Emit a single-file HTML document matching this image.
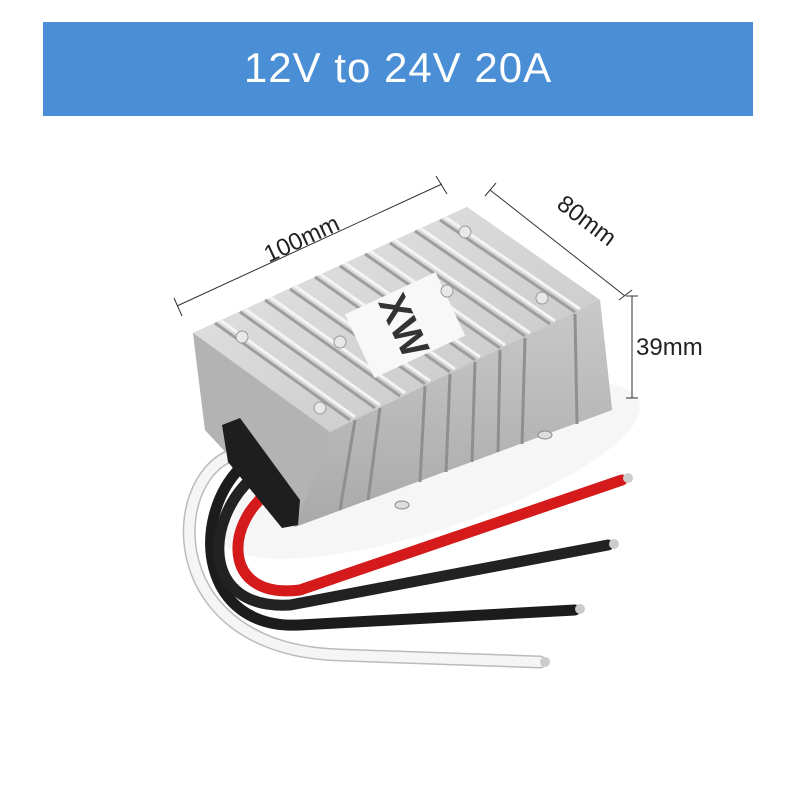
<!DOCTYPE html>
<html><head><meta charset="utf-8"><style>
html,body{margin:0;padding:0;background:#fff;}
body{width:800px;height:800px;position:relative;overflow:hidden;font-family:"Liberation Sans",sans-serif;}
.banner{position:absolute;left:43px;top:22px;width:710px;height:94px;background:#4a8fd6;color:#fff;font-size:42px;text-align:center;line-height:92px;letter-spacing:1px;}
svg{position:absolute;left:0;top:0;}
</style></head><body>
<div class="banner">12V to 24V 20A</div>
<svg width="800" height="800" viewBox="0 0 800 800">
<defs>
<linearGradient id="top" x1="0" y1="0" x2="1" y2="1"><stop offset="0" stop-color="#e6e6e6"/><stop offset="1" stop-color="#c4c4c4"/></linearGradient>
<linearGradient id="front" x1="0" y1="0" x2="0" y2="1"><stop offset="0" stop-color="#c9c9c9"/><stop offset="1" stop-color="#a9a9a9"/></linearGradient>
</defs>
<ellipse cx="430" cy="470" rx="220" ry="60" fill="#f6f6f6" transform="rotate(-18 430 470)"/>
<g stroke="#333" stroke-width="1" fill="none">
<line x1="177" y1="306" x2="442" y2="184"/><line x1="174" y1="298" x2="182" y2="316"/><line x1="436" y1="176" x2="447" y2="194"/>
<line x1="490" y1="190" x2="625" y2="296"/><line x1="485" y1="196" x2="496" y2="183"/><line x1="619" y1="300" x2="632" y2="290"/>
<line x1="632" y1="296" x2="632" y2="398"/><line x1="626" y1="296" x2="638" y2="296"/><line x1="626" y1="398" x2="638" y2="398"/>
</g>
<text x="305" y="246" font-size="24" fill="#222" transform="rotate(-25 305 246)" text-anchor="middle">100mm</text>
<text x="582" y="227" font-size="24" fill="#222" transform="rotate(37 582 227)" text-anchor="middle">80mm</text>
<text x="636" y="355" font-size="24" fill="#222">39mm</text>
<polygon points="193,333 205,430 295,527 612,410 600,300 467,207" fill="#bdbdbd"/>
<polygon points="193,333 467,207 600,300 330,432" fill="url(#top)"/>
<polygon points="330,432 600,300 612,410 295,527" fill="url(#front)"/>
<polygon points="193,333 330,432 295,527 205,430" fill="#b3b3b3"/>
<g stroke="#9e9e9e" stroke-width="3">
<line x1="215" y1="323" x2="350" y2="420"/><line x1="240" y1="312" x2="375" y2="408"/>
<line x1="265" y1="300" x2="400" y2="396"/><line x1="290" y1="289" x2="425" y2="384"/>
<line x1="315" y1="277" x2="450" y2="372"/><line x1="340" y1="266" x2="475" y2="360"/>
<line x1="365" y1="254" x2="500" y2="348"/><line x1="390" y1="243" x2="525" y2="336"/>
<line x1="415" y1="231" x2="550" y2="324"/><line x1="440" y1="220" x2="575" y2="312"/>
</g>
<g stroke="#f4f4f4" stroke-width="3">
<line x1="220" y1="320" x2="355" y2="417"/><line x1="245" y1="309" x2="380" y2="405"/>
<line x1="270" y1="297" x2="405" y2="393"/><line x1="295" y1="286" x2="430" y2="381"/>
<line x1="320" y1="274" x2="455" y2="369"/><line x1="345" y1="263" x2="480" y2="357"/>
<line x1="370" y1="251" x2="505" y2="345"/><line x1="395" y1="240" x2="530" y2="333"/>
<line x1="420" y1="228" x2="555" y2="321"/><line x1="445" y1="217" x2="580" y2="309"/>
</g>
<g stroke="#8f8f8f" stroke-width="3">
<line x1="355" y1="420" x2="340" y2="510"/><line x1="380" y1="408" x2="368" y2="500"/>
<line x1="425" y1="386" x2="420" y2="482"/><line x1="450" y1="374" x2="446" y2="472"/>
<line x1="475" y1="362" x2="472" y2="462"/><line x1="500" y1="350" x2="498" y2="452"/>
<line x1="525" y1="338" x2="522" y2="444"/><line x1="575" y1="314" x2="577" y2="424"/>
</g>
<g fill="#ddd" stroke="#888"><ellipse cx="402" cy="505" rx="7" ry="4"/><ellipse cx="545" cy="435" rx="7" ry="4"/></g>
<g transform="rotate(-25 405 325)">
<rect x="355" y="290" width="100" height="70" fill="#f8f8f8"/>
<text x="405" y="340" font-size="40" font-weight="bold" fill="#333" text-anchor="middle" transform="rotate(90 405 325)">XW</text>
</g>
<g fill="#e8e8e8" stroke="#999"><circle cx="242" cy="337" r="6"/><circle cx="340" cy="342" r="6"/><circle cx="447" cy="291" r="6"/><circle cx="542" cy="298" r="6"/><circle cx="465" cy="232" r="6"/><circle cx="320" cy="408" r="6"/></g>
<g fill="none" stroke-linecap="round">
<path d="M232,455 C165,480 160,650 340,655 L540,662" stroke="#bbb" stroke-width="13"/>
<path d="M232,455 C165,480 160,650 340,655 L540,662" stroke="#f5f5f5" stroke-width="10"/>
<path d="M240,468 C190,520 200,630 300,625 L575,610" stroke="#1c1c1c" stroke-width="11"/>
<path d="M252,478 C205,520 200,610 290,605 L608,545" stroke="#222" stroke-width="11"/>
<path d="M272,490 C225,520 220,600 300,590 L622,480" stroke="#d41a1a" stroke-width="11"/>
</g>
<polygon points="222,425 240,418 300,500 298,525 282,528 228,462" fill="#1e1e1e"/>
<g fill="#ccc"><circle cx="545" cy="662" r="5"/><circle cx="580" cy="609" r="5"/><circle cx="614" cy="544" r="5"/><circle cx="628" cy="478" r="5"/></g>
</svg>
</body></html>
